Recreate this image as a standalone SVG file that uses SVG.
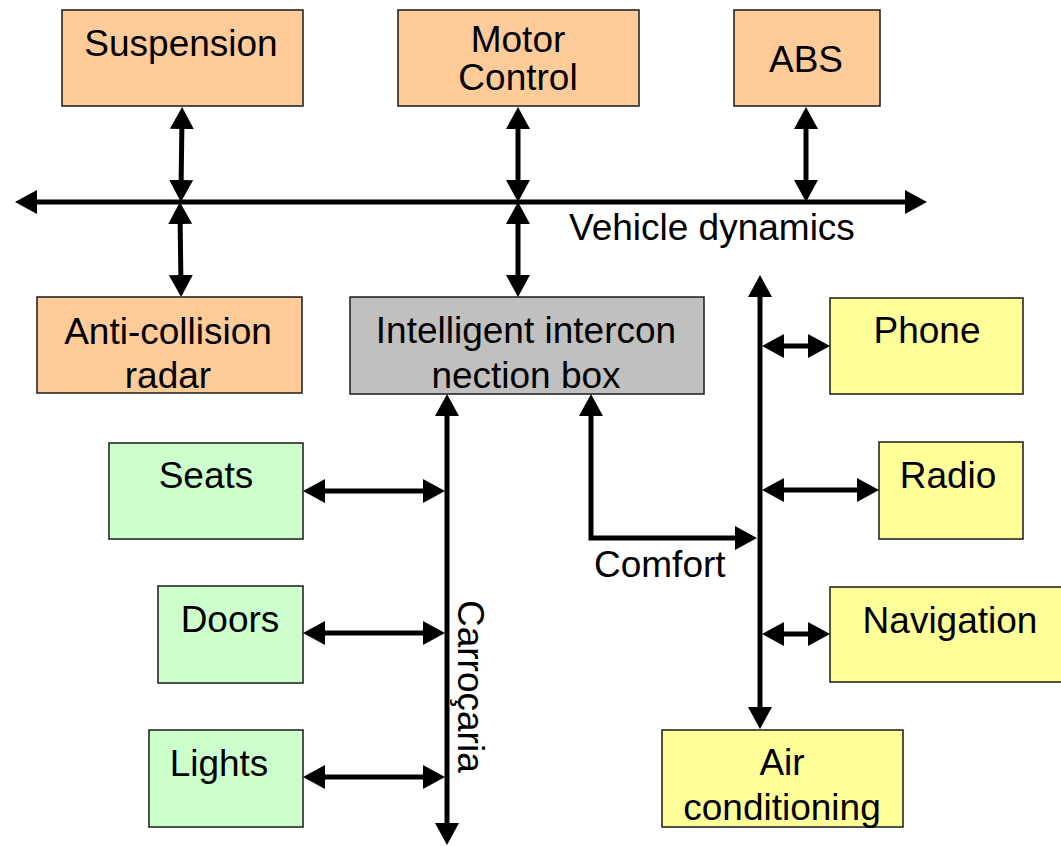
<svg xmlns="http://www.w3.org/2000/svg" width="1061" height="846" viewBox="0 0 1061 846">
  <style>
    .box { stroke: #1a1a1a; stroke-width: 1.5; }
    .dyn { fill: #FFCC99; }
    .hub { fill: #C0C0C0; }
    .body { fill: #CCFFCC; }
    .comf { fill: #FFFF99; }
    text { font-family: "Liberation Sans", Arial, sans-serif; font-size: 37px; fill: #000; }
    .c { text-anchor: middle; }
    .bus { fill: none; stroke: #000; stroke-width: 5; stroke-linejoin: miter; marker-start: url(#head); marker-end: url(#head); }
  </style>
  <defs>
    <!-- arrowhead: tip sits 10px beyond the line end so the stroke never pokes past the point -->
    <marker id="head" viewBox="0 0 22 24" refX="12" refY="12" markerWidth="22" markerHeight="24" markerUnits="userSpaceOnUse" orient="auto-start-reverse">
      <path d="M0,0 L22,12 L0,24 Z" fill="#000"/>
    </marker>
  </defs>

  <rect width="1061" height="846" fill="#fff"/>

  <!-- vehicle dynamics nodes -->
  <g id="suspension">
    <rect class="box dyn" x="62" y="10" width="241" height="96"/>
    <text class="c" x="181" y="56">Suspension</text>
  </g>
  <g id="motor-control">
    <rect class="box dyn" x="398" y="10" width="241" height="96"/>
    <text class="c" x="518" y="52">Motor</text>
    <text class="c" x="518" y="90">Control</text>
  </g>
  <g id="abs">
    <rect class="box dyn" x="734" y="10" width="146" height="96"/>
    <text class="c" x="806" y="72">ABS</text>
  </g>
  <g id="anti-collision-radar">
    <rect class="box dyn" x="37" y="297" width="265" height="96"/>
    <text class="c" x="168" y="344">Anti-collision</text>
    <text class="c" x="168" y="388">radar</text>
  </g>

  <!-- gateway -->
  <g id="interconnection-box">
    <rect class="box hub" x="350" y="297" width="354" height="97"/>
    <text class="c" x="526" y="343">Intelligent intercon</text>
    <text class="c" x="526" y="388">nection box</text>
  </g>

  <!-- body nodes -->
  <g id="seats">
    <rect class="box body" x="109" y="443" width="194" height="96"/>
    <text class="c" x="206" y="488">Seats</text>
  </g>
  <g id="doors">
    <rect class="box body" x="158" y="586" width="145" height="97"/>
    <text class="c" x="230" y="632">Doors</text>
  </g>
  <g id="lights">
    <rect class="box body" x="149" y="730" width="154" height="97"/>
    <text class="c" x="219" y="776">Lights</text>
  </g>

  <!-- comfort nodes -->
  <g id="phone">
    <rect class="box comf" x="830" y="298" width="193" height="96"/>
    <text class="c" x="927" y="343">Phone</text>
  </g>
  <g id="radio">
    <rect class="box comf" x="879" y="442" width="144" height="97"/>
    <text class="c" x="948" y="488">Radio</text>
  </g>
  <g id="navigation">
    <rect class="box comf" x="830" y="587" width="240" height="95"/>
    <text class="c" x="950" y="633">Navigation</text>
  </g>
  <g id="air-conditioning">
    <rect class="box comf" x="662" y="730" width="241" height="97"/>
    <text class="c" x="782" y="775">Air</text>
    <text class="c" x="782" y="820">conditioning</text>
  </g>

  <!-- buses and links -->
  <g id="connectors">
    <!-- vehicle dynamics bus -->
    <line class="bus" x1="25" y1="202" x2="917" y2="202"/>
    <line class="bus" x1="182" y1="117" x2="181" y2="192"/>
    <line class="bus" x1="180" y1="212" x2="181" y2="287"/>
    <line class="bus" x1="518" y1="117" x2="518" y2="192"/>
    <line class="bus" x1="518" y1="212" x2="518" y2="287"/>
    <line class="bus" x1="806" y1="117" x2="806" y2="192"/>

    <!-- body bus -->
    <line class="bus" x1="447" y1="404" x2="447" y2="835"/>
    <line class="bus" x1="313" y1="491" x2="435" y2="491"/>
    <line class="bus" x1="313" y1="633" x2="435" y2="633"/>
    <line class="bus" x1="313" y1="777" x2="435" y2="777"/>

    <!-- comfort bus -->
    <path class="bus" d="M591,404 L591,538 L747,538"/>
    <line class="bus" x1="760" y1="285" x2="760" y2="719"/>
    <line class="bus" x1="772" y1="346" x2="820" y2="346"/>
    <line class="bus" x1="772" y1="490" x2="869" y2="490"/>
    <line class="bus" x1="772" y1="634" x2="820" y2="634"/>
  </g>

  <!-- bus labels -->
  <g id="labels">
    <text x="569" y="240">Vehicle dynamics</text>
    <text x="594" y="577">Comfort</text>
    <text transform="translate(458,600) rotate(90)">Carroçaria</text>
  </g>
</svg>
